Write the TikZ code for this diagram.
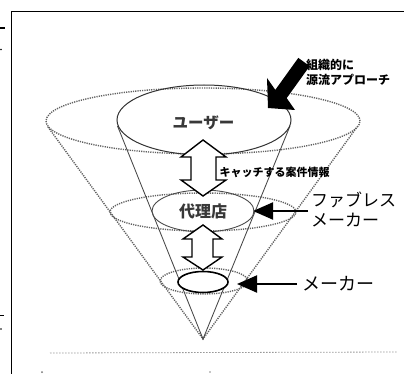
\documentclass[tikz,border=0pt]{standalone}
\usepackage{fontspec}
\setmainfont{Noto Sans CJK JP}
\usetikzlibrary{arrows.meta}
\begin{document}
\begin{tikzpicture}[x=1pt,y=-1pt,
  dotl/.style={draw=black!62, line width=1.4pt, dash pattern=on 1.2pt off 1.1pt},
  conel/.style={draw=black!72, line width=0.85pt},
  dbl/.style={draw=black, line width=1.4pt, fill=white, line join=miter},
  ptr/.style={draw=black, line width=2pt, -{Triangle[length=20pt,width=17pt]}},
  lbl/.style={inner sep=0pt, anchor=west},
  ctr/.style={inner sep=0pt, text=black!78, font=\fontsize{15.5}{17}\selectfont\bfseries}]
\useasboundingbox (0,0) rectangle (404,374);
\fill[white] (0,0) rectangle (404,374);
% frame
\draw[line width=1.5pt] (11.5,374) -- (11.5,11.5) -- (404,11.5);
% fragments at the left edge and bottom
\fill (0,27.5) rectangle (5,29);
\fill (1,49.5) circle (0.9);
\fill (0,314.5) rectangle (4,316);
\fill (1,329) circle (0.9);
\fill[black!55] (42,372) circle (1);
\fill[black!45] (210,372) circle (0.8);
% key points
\coordinate (apex) at (203,339);
% dotted cone
\draw[dotl] (203,121) ellipse [x radius=157pt, y radius=33pt];
\draw[dotl] (48,127) -- (apex) -- (357,127);
\draw[dotl] (203,212) ellipse [x radius=93pt, y radius=19pt];
\draw[dotl] (204,281) ellipse [x radius=44pt, y radius=13pt];
% bottom faint line
\draw[black!40, line width=0.8pt, dash pattern=on 1.5pt off 1.5pt] (50,353) -- (397,352);
% solid cone
\draw[conel] (117.5,126) -- (apex) -- (290,126);
\draw[black!80, line width=1pt] (204,120) ellipse [x radius=87pt, y radius=35pt];
\draw[black!70, line width=0.9pt] (203,211) ellipse [x radius=51pt, y radius=21pt];
\draw[black, line width=1.6pt, fill=white] (203,282) ellipse [x radius=25pt, y radius=10.5pt];
% hollow double arrows
\draw[dbl] (203,140) -- (226,157) -- (216,157) -- (216,180) -- (226,180) -- (203,196)
  -- (181,180) -- (191,180) -- (191,157) -- (181,157) -- cycle;
\draw[dbl] (203,225) -- (222,239) -- (213,239) -- (213,257) -- (222,257) -- (203,270)
  -- (183,257) -- (192,257) -- (192,239) -- (183,239) -- cycle;
% big black arrow
\fill[black] (268,108) -- (295,110) -- (286.7,98.1) -- (309.7,66.1) -- (298.3,57.9)
  -- (275.3,89.9) -- (267,78) -- cycle;
% texts
\node[ctr] (user) at (203.5,123) {ユーザー};
\node[ctr, font=\fontsize{16}{18}\selectfont\bfseries] (agent) at (203,211) {代理店};
\node[lbl, font=\fontsize{11}{12}\selectfont\bfseries] (catch) at (219.5,172) {キャッチする案件情報};
\node[lbl, font=\fontsize{12}{13}\selectfont\bfseries] (sos1) at (306,65) {組織的に};
\node[lbl, font=\fontsize{12}{13}\selectfont\bfseries] (sos2) at (306,80) {源流アプローチ};
\node[lbl, font=\fontsize{17}{18}\selectfont] (fab1) at (311,200) {ファブレス};
\node[lbl, font=\fontsize{17}{18}\selectfont] (fab2) at (311,220) {メーカー};
\node[lbl, font=\fontsize{18}{19}\selectfont] (maker) at (302,284) {メーカー};
% pointer arrows
\coordinate (fabtail) at (308,211);
\coordinate (fabtip) at (253,211);
\coordinate (maktip) at (237,284);
\draw[ptr] (fabtail) -- (fabtip);
\draw[ptr] ([xshift=-5pt]maker.west) -- (maktip);
\end{tikzpicture}
\end{document}
